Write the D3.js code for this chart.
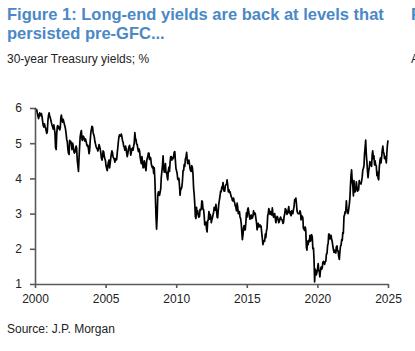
<!DOCTYPE html>
<html>
<head>
<meta charset="utf-8">
<script src="https://cdn.jsdelivr.net/npm/d3@7"></script>
<style>
    body { margin: 0; background: #fff; }
    svg { display: block; font-family: Arial, "Liberation Sans", sans-serif; }
    .title { fill: #4b88c6; font-weight: bold; font-size: 16.5px; }
    .subtitle, .source { fill: #222; font-size: 12px; }
    .axis path, .axis line { stroke: #595959; stroke-width: 1.6px; }
    .axis text { fill: #222; font-size: 12px; font-family: Arial, "Liberation Sans", sans-serif; }
</style>
</head>
<body>
<div id="chart"></div>
<script>

// 30-year Treasury yield, %, two readings a month (mid, end) from May 2000 to May 2025
const startYear = 2000;
const startMonth = 4; // May
const yields = [
    6.00, 5.97, 5.92, 5.95, 5.85, 5.78, 5.70, 5.76, 5.86, 5.80, 5.78, 5.84, 5.74, 5.62, 5.50, 5.46,
    5.55, 5.48, 5.42, 5.35, 5.28, 5.32, 5.65, 5.78, 5.86, 5.78, 5.72, 5.66, 5.58, 5.52, 5.46, 5.40, 5.52, 5.42, 5.28, 4.88, 4.82, 5.28, 5.48, 5.50,
    5.42, 5.46, 5.38, 5.44, 5.72, 5.80, 5.68, 5.60, 5.68, 5.62, 5.54, 5.48, 5.40, 5.28, 5.10, 5.05, 4.82, 4.72, 4.68, 5.08, 5.02, 5.05, 4.96, 4.82,
    5.00, 4.92, 4.78, 4.72, 4.74, 4.82, 4.92, 4.85, 4.52, 4.38, 4.20, 4.56, 4.90, 5.18, 5.30, 5.36, 5.10, 5.08, 5.20, 5.18, 5.12, 5.06, 5.12, 5.06,
    4.96, 4.92, 4.94, 4.84, 4.70, 4.78, 5.08, 5.28, 5.40, 5.48, 5.46, 5.30, 5.24, 5.18, 5.04, 4.98, 4.90, 4.86, 4.84, 4.78, 4.86, 4.96, 4.90, 4.84,
    4.72, 4.58, 4.52, 4.62, 4.78, 4.76, 4.62, 4.56, 4.50, 4.36, 4.28, 4.22, 4.36, 4.46, 4.52, 4.30, 4.44, 4.58, 4.70, 4.78, 4.72, 4.60, 4.58, 4.54,
    4.46, 4.56, 4.52, 4.54, 4.72, 4.86, 5.06, 5.18, 5.24, 5.20, 5.22, 5.26, 5.18, 5.08, 5.02, 4.92, 4.88, 4.80, 4.92, 4.86, 4.72, 4.62, 4.70, 4.82,
    4.90, 4.94, 4.80, 4.66, 4.74, 4.84, 4.86, 4.80, 4.92, 5.00, 5.30, 5.14, 5.10, 4.98, 4.96, 4.86, 4.76, 4.84, 4.78, 4.62, 4.50, 4.42, 4.62, 4.48,
    4.30, 4.32, 4.50, 4.42, 4.30, 4.22, 4.48, 4.56, 4.62, 4.72, 4.72, 4.54, 4.60, 4.58, 4.40, 4.34, 4.30, 4.34, 4.14, 4.30, 3.96, 3.44, 2.88, 2.56,
    2.98, 3.52, 3.62, 3.60, 3.52, 3.60, 3.70, 4.02, 4.20, 4.34, 4.64, 4.32, 4.18, 4.28, 4.42, 4.16, 4.18, 4.04, 3.96, 4.22, 4.32, 4.20, 4.48, 4.62,
    4.62, 4.52, 4.58, 4.56, 4.62, 4.74, 4.76, 4.52, 4.28, 4.22, 4.14, 3.98, 3.96, 4.00, 3.78, 3.52, 3.72, 3.70, 3.76, 3.92, 4.22, 4.22, 4.40, 4.34,
    4.56, 4.60, 4.74, 4.56, 4.42, 4.50, 4.52, 4.42, 4.28, 4.22, 4.20, 4.36, 4.30, 4.14, 3.72, 3.56, 3.26, 2.92, 2.86, 3.18, 3.00, 3.08, 2.94, 2.90,
    2.92, 3.12, 3.10, 3.14, 3.36, 3.34, 3.12, 3.12, 2.94, 2.68, 2.74, 2.76, 2.56, 2.48, 2.80, 2.82, 3.06, 2.84, 2.98, 2.94, 2.74, 2.82, 2.88, 2.96,
    3.04, 3.18, 3.18, 3.10, 3.26, 3.12, 2.90, 2.88, 3.10, 3.28, 3.40, 3.50, 3.64, 3.62, 3.76, 3.72, 3.88, 3.68, 3.64, 3.64, 3.80, 3.82, 3.84, 3.96,
    3.80, 3.62, 3.68, 3.60, 3.62, 3.56, 3.48, 3.46, 3.38, 3.36, 3.44, 3.36, 3.30, 3.22, 3.18, 3.08, 3.30, 3.20, 3.00, 3.06, 3.06, 2.90, 2.86, 2.74,
    2.48, 2.26, 2.40, 2.60, 2.66, 2.54, 2.54, 2.74, 3.02, 2.90, 3.12, 3.16, 3.04, 2.92, 2.84, 2.94, 2.96, 2.86, 2.88, 2.92, 3.08, 2.98, 3.02, 3.00,
    2.86, 2.76, 2.54, 2.64, 2.72, 2.62, 2.64, 2.68, 2.62, 2.64, 2.44, 2.30, 2.12, 2.18, 2.24, 2.22, 2.42, 2.32, 2.52, 2.58, 2.94, 3.00, 3.14, 3.06,
    2.98, 3.06, 3.02, 2.96, 3.16, 3.02, 2.90, 2.96, 3.00, 2.88, 2.74, 2.84, 2.92, 2.90, 2.82, 2.74, 2.78, 2.86, 2.90, 2.86, 2.82, 2.82, 2.72, 2.74,
    2.92, 2.98, 3.14, 3.12, 3.06, 2.98, 3.02, 3.10, 3.20, 3.02, 3.06, 2.98, 2.94, 3.08, 3.04, 3.00, 3.12, 3.20, 3.40, 3.40, 3.44, 3.30, 3.08, 3.02,
    3.00, 3.00, 3.00, 3.08, 3.04, 2.82, 2.94, 2.92, 2.88, 2.58, 2.56, 2.52, 2.62, 2.54, 2.04, 1.96, 2.22, 2.12, 2.24, 2.20, 2.38, 2.22, 2.28, 2.40,
    2.32, 2.00, 2.02, 1.68, 1.06, 1.42, 1.36, 1.26, 1.34, 1.42, 1.58, 1.40, 1.34, 1.20, 1.40, 1.48, 1.42, 1.46, 1.62, 1.64, 1.58, 1.56, 1.64, 1.64,
    1.86, 1.86, 2.10, 2.16, 2.42, 2.42, 2.28, 2.30, 2.38, 2.28, 2.20, 2.08, 1.98, 1.90, 1.96, 1.90, 1.88, 2.06, 2.08, 1.94, 1.94, 1.78, 1.70, 1.90,
    2.08, 2.10, 2.26, 2.24, 2.46, 2.44, 2.92, 2.96, 3.06, 3.02, 3.36, 3.14, 3.08, 3.00, 3.12, 3.24, 3.44, 3.78, 4.10, 4.24, 3.90, 3.80, 3.50, 3.94,
    3.62, 3.62, 3.72, 3.90, 3.78, 3.64, 3.66, 3.68, 3.94, 3.86, 3.86, 3.84, 3.92, 4.02, 4.24, 4.28, 4.36, 4.70, 4.90, 5.09, 4.66, 4.48, 4.20, 4.02,
    4.22, 4.30, 4.48, 4.38, 4.42, 4.34, 4.68, 4.78, 4.56, 4.64, 4.38, 4.50, 4.38, 4.36, 4.08, 4.18, 4.00, 3.96, 4.30, 4.48, 4.58, 4.44, 4.60, 4.78,
    4.92, 4.76, 4.70, 4.56, 4.62, 4.60, 4.44, 4.72, 4.96, 5.08
];

const xTickLabels = ["2000", "2005", "2010", "2015", "2020", "2025"];
const yTickValues = [1, 2, 3, 4, 5, 6];

class LineVis {

    constructor(_parentElement, _data) {
        this.parentElement = _parentElement;
        this.data = _data;
        this.initVis();
    }

    initVis() {
        let vis = this;

        vis.width = 415;
        vis.height = 351;
        vis.plot = {left: 35, right: 388, top: 108, bottom: 284};

        vis.svg = d3.select("#" + vis.parentElement).append("svg")
            .attr("width", vis.width)
            .attr("height", vis.height);

        // titles
        vis.svg.append("text").attr("class", "title")
            .attr("x", 7).attr("y", 20)
            .text("Figure 1: Long-end yields are back at levels that");
        vis.svg.append("text").attr("class", "title")
            .attr("x", 7).attr("y", 39)
            .text("persisted pre-GFC...");
        vis.svg.append("text").attr("class", "subtitle")
            .attr("x", 7).attr("y", 63)
            .text("30-year Treasury yields; %");

        // next figure on the page, cut off by the right edge as in the original
        vis.svg.append("text").attr("class", "title")
            .attr("x", 411).attr("y", 20)
            .text("Figure 2:");
        vis.svg.append("text").attr("class", "subtitle")
            .attr("x", 411).attr("y", 63)
            .text("A");

        vis.svg.append("text").attr("class", "source")
            .attr("x", 7).attr("y", 333)
            .text("Source: J.P. Morgan");

        vis.x = d3.scaleTime()
            .domain(d3.extent(vis.data, d => d.date))
            .range([vis.plot.left, vis.plot.right]);

        // the labels are spread evenly along the axis, like the original
        vis.xLabels = d3.scalePoint()
            .domain(xTickLabels)
            .range([vis.plot.left, vis.plot.right]);

        vis.y = d3.scaleLinear()
            .domain([1, 6])
            .range([vis.plot.bottom, vis.plot.top]);

        vis.line = d3.line()
            .x(d => vis.x(d.date))
            .y(d => vis.y(d.value));

        vis.svg.append("path")
            .datum(vis.data)
            .attr("fill", "none")
            .attr("stroke", "#000")
            .attr("stroke-width", 1.7)
            .attr("stroke-linejoin", "round")
            .attr("d", vis.line);

        vis.svg.append("g")
            .attr("class", "axis y-axis")
            .attr("transform", "translate(" + vis.plot.left + ",0)")
            .call(d3.axisLeft(vis.y).tickValues(yTickValues).tickFormat(d3.format("d"))
                .tickSize(5).tickSizeOuter(0).tickPadding(8));

        vis.svg.append("g")
            .attr("class", "axis x-axis")
            .attr("transform", "translate(0," + vis.plot.bottom + ")")
            .call(d3.axisBottom(vis.xLabels).tickSize(4).tickSizeOuter(0).tickPadding(6));
    }
}

let series = yields.map((v, i) => ({
    date: new Date(startYear, startMonth + Math.floor(i / 2), i % 2 ? 28 : 14),
    value: v
}));

new LineVis("chart", series);

</script>
</body>
</html>
